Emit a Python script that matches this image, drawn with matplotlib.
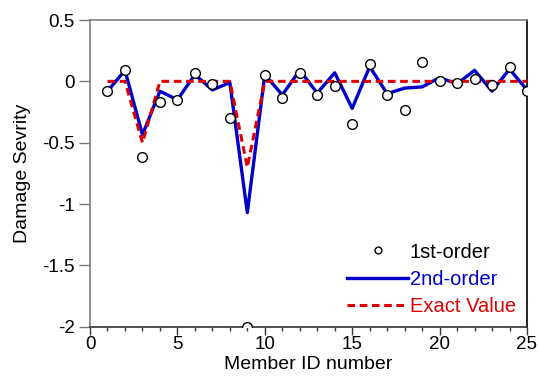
import matplotlib.pyplot as plt
from matplotlib.ticker import MultipleLocator

# Номери елементів і значення пошкоджень
members = list(range(1, 26))
first_order = [-0.08, 0.09, -0.62, -0.17, -0.15, 0.07, -0.02, -0.30, -2.0, 0.05,
               -0.135, 0.07, -0.11, -0.04, -0.35, 0.14, -0.11, -0.23, 0.16, 0.005,
               -0.01, 0.02, -0.03, 0.12, -0.075]
second_order = [-0.08, 0.09, -0.435, -0.08, -0.15, 0.055, -0.07, -0.01, -1.07, 0.055,
                -0.11, 0.09, -0.095, 0.07, -0.22, 0.12, -0.10, -0.055, -0.045, 0.03,
                -0.02, 0.09, -0.08, 0.10, -0.07]
exact = [0, 0, -0.5, 0, 0, 0, 0, 0, -0.7, 0,
         0, 0, 0, 0, 0, 0, 0, 0, 0, 0,
         0, 0, 0, 0, 0]

plt.rcParams['font.family'] = ['Liberation Sans', 'DejaVu Sans']

fig = plt.figure(figsize=(5.39, 3.78), dpi=100)
ax = fig.add_axes([0.167, 0.1357, 0.8107, 0.8113])

ax.plot(members, first_order, 'o', mfc='white', mec='black', ms=7, mew=1.0,
        label='1st-order', zorder=4)
ax.plot(members, second_order, color='#0000cc', lw=2.4, label='2nd-order', zorder=2)
ax.plot(members, exact, color='#dd0000', lw=2.2, ls=(0, (2.5, 1.5)),
        label='Exact Value', zorder=3)

ax.set_xlim(0, 25)
ax.set_ylim(-2, 0.5)
ax.xaxis.set_major_locator(MultipleLocator(5))
ax.xaxis.set_minor_locator(MultipleLocator(1))
ax.set_yticks([0.5, 0, -0.5, -1, -1.5, -2])
ax.set_yticklabels(['0.5', '0', '-0.5', '-1', '-1.5', '-2'])

ax.tick_params(axis='x', which='major', direction='out', length=6, width=1,
               labelsize=13.5, pad=1, colors='#333333', labelcolor='black')
ax.tick_params(axis='x', which='minor', direction='out', length=3, width=1,
               colors='#333333')
ax.tick_params(axis='y', which='major', direction='out', length=8, width=1,
               labelsize=13.5, pad=3, colors='#777777', labelcolor='black')

for side in ['left', 'top']:
    ax.spines[side].set_color('#808080')
ax.spines['bottom'].set_color('#333333')
ax.spines['right'].set_color('black')
for s in ax.spines.values():
    s.set_linewidth(1.2)

ax.set_xlabel('Member ID number', fontsize=14, labelpad=2)
ax.set_ylabel('Damage Sevrity', fontsize=14, labelpad=8)

leg = ax.legend(loc='lower right', frameon=False, fontsize=14.5,
                handlelength=3.0, handletextpad=0.1, labelspacing=0.4,
                borderaxespad=0.15, markerscale=0.7)
for text, c in zip(leg.get_texts(), ['black', '#0000cc', '#dd0000']):
    text.set_color(c)

fig.savefig('out.png', dpi=100)
